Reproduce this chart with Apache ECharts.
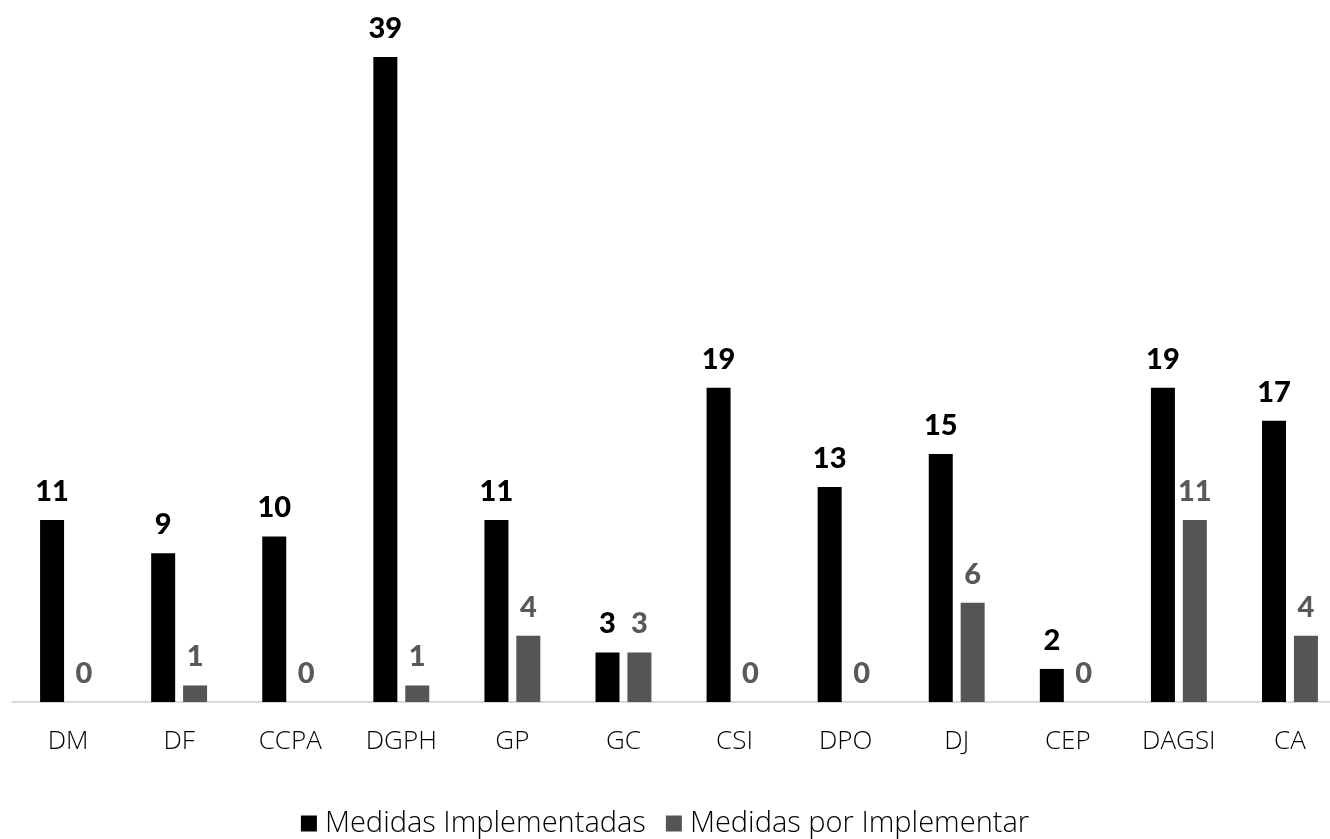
<!DOCTYPE html>
<html>
<head>
<meta charset="utf-8">
<script src="https://cdn.jsdelivr.net/npm/echarts@6/dist/echarts.min.js"></script>
<style>
  html, body { margin: 0; padding: 0; background: #ffffff; }
  #chart { width: 1330px; height: 839px; }
</style>
</head>
<body>
<div id="chart"></div>
<script>
const categories = ['DM', 'DF', 'CCPA', 'DGPH', 'GP', 'GC', 'CSI', 'DPO', 'DJ', 'CEP', 'DAGSI', 'CA'];
const implementadas = [11, 9, 10, 39, 11, 3, 19, 13, 15, 2, 19, 17];
const porImplementar = [0, 1, 0, 1, 4, 3, 0, 0, 6, 0, 11, 4];
const seriesNames = ['Medidas Implementadas', 'Medidas por Implementar'];

const LABEL_FONT = 'Lato, "Open Sans", sans-serif';
const TEXT_FONT = '"Open Sans", Lato, sans-serif';
const chart = echarts.init(document.getElementById('chart'));

function valueLabel(color) {
  return {
    show: true,
    position: 'top',
    distance: 14,
    color: color,
    fontFamily: LABEL_FONT,
    fontWeight: 900,
    fontSize: 29
  };
}

chart.setOption({
  animation: false,
  backgroundColor: '#ffffff',
  // the plot runs slightly past the right edge of the canvas
  grid: { left: 12.5, width: 1333, top: 57, bottom: 137, outerBoundsMode: 'none', containLabel: false },
  legend: {
    bottom: -4,
    left: 'center',
    itemWidth: 16,
    itemHeight: 16,
    itemGap: 20,
    icon: 'rect',
    textStyle: { fontFamily: TEXT_FONT, fontSize: 29, fontWeight: 300, color: '#000000', padding: [0, 0, 0, 3] },
    data: seriesNames
  },
  xAxis: {
    type: 'category',
    data: categories,
    axisLine: { show: true, lineStyle: { color: '#d9d9d9', width: 2 } },
    axisTick: { show: false },
    axisLabel: { color: '#000000', fontFamily: TEXT_FONT, fontSize: 26, fontWeight: 300, margin: 27 }
  },
  yAxis: {
    type: 'value',
    min: 0,
    max: 39,
    show: false,
    splitLine: { show: false }
  },
  series: [
    {
      name: seriesNames[0],
      type: 'bar',
      data: implementadas,
      barWidth: 24,
      barGap: '33%',
      itemStyle: { color: '#000000' },
      label: valueLabel('#000000')
    },
    {
      name: seriesNames[1],
      type: 'bar',
      data: porImplementar,
      barWidth: 24,
      itemStyle: { color: '#555555' },
      label: valueLabel('#595959')
    }
  ]
});
</script>
</body>
</html>
